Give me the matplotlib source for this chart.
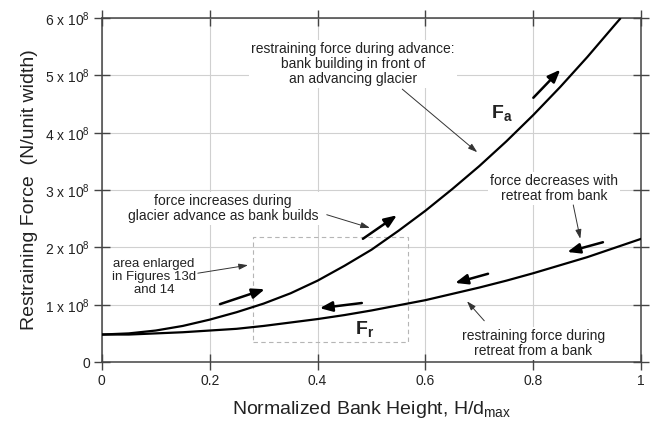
import matplotlib
matplotlib.use('Agg')
import matplotlib.pyplot as plt
from matplotlib.ticker import FuncFormatter
from matplotlib.patches import Rectangle

plt.rcParams['font.family'] = ['Liberation Sans', 'DejaVu Sans']
plt.rcParams['mathtext.fontset'] = 'custom'
plt.rcParams['mathtext.rm'] = 'Liberation Sans'
plt.rcParams['mathtext.it'] = 'Liberation Sans'
plt.rcParams['mathtext.bf'] = 'Liberation Sans:bold'

# bank height H/dmax and restraining forces (units of 1e8 N per unit width)
h_adv = [0.0, 0.05, 0.1, 0.15, 0.2, 0.25, 0.3, 0.35, 0.4, 0.45, 0.5,
         0.55, 0.6, 0.65, 0.7, 0.75, 0.8, 0.85, 0.9, 0.95, 0.962]
f_adv = [0.48, 0.50, 0.55, 0.63, 0.74, 0.87, 1.02, 1.20, 1.42, 1.68, 1.96,
         2.29, 2.64, 3.02, 3.42, 3.85, 4.31, 4.80, 5.32, 5.87, 6.00]

h_ret = [0.0, 0.05, 0.1, 0.15, 0.2, 0.25, 0.3, 0.35, 0.4, 0.45, 0.5,
         0.55, 0.6, 0.65, 0.7, 0.75, 0.8, 0.85, 0.9, 0.95, 1.0]
f_ret = [0.48, 0.48, 0.50, 0.52, 0.55, 0.58, 0.63, 0.69, 0.75, 0.82, 0.90,
         0.99, 1.08, 1.19, 1.30, 1.42, 1.55, 1.69, 1.83, 1.99, 2.15]

x_ticks = [0, 0.2, 0.4, 0.6, 0.8, 1]
x_tick_labels = ['0', '0.2', '0.4', '0.6', '0.8', '1']
y_ticks = [0, 1, 2, 3, 4, 5, 6]

# direction arrows drawn beside the curves: (tail, head)
flow_arrows = [
    ((0.219, 1.01), (0.302, 1.27)),
    ((0.484, 2.15), (0.547, 2.56)),
    ((0.800, 4.61), (0.850, 5.10)),
    ((0.929, 2.09), (0.863, 1.92)),
    ((0.716, 1.54), (0.655, 1.38)),
    ((0.482, 1.03), (0.404, 0.94)),
]

# notes: (text, text position, arrow tail, arrow head, font size)
notes = [
    ('restraining force during advance:\nbank building in front of\nan advancing glacier',
     (0.466, 5.2), (0.557, 4.76), (0.696, 3.66), 10),
    ('force increases during\nglacier advance as bank builds',
     (0.225, 2.68), (0.417, 2.57), (0.497, 2.34), 10),
    ('area enlarged\nin Figures 13d\nand 14',
     (0.097, 1.49), (0.178, 1.55), (0.271, 1.69), 9.5),
    ('force decreases with\nretreat from bank',
     (0.839, 3.03), (0.874, 2.74), (0.887, 2.15), 10),
    ('restraining force during\nretreat from a bank',
     (0.800, 0.33), (0.709, 0.72), (0.677, 1.06), 10),
]

enlarged_box = (0.28, 0.35, 0.568, 2.18)

text_color = '#222222'

fig = plt.figure(figsize=(6.57, 4.30), dpi=100)
ax = fig.add_axes([0.155, 0.158, 0.821, 0.800])

ax.plot(h_adv, f_adv, color='black', lw=1.6, zorder=4, solid_capstyle='butt')
ax.plot(h_ret, f_ret, color='black', lw=1.6, zorder=4)

x0, y0, x1, y1 = enlarged_box
ax.add_patch(Rectangle((x0, y0), x1 - x0, y1 - y0, fill=False,
                       ec='#b5b5b5', lw=0.8, ls=(0, (4, 3)), zorder=2))

for tail, head in flow_arrows:
    ax.annotate('', xy=head, xytext=tail,
                arrowprops=dict(arrowstyle='-|>,head_length=0.75,head_width=0.3',
                                color='black', lw=1.8, shrinkA=0, shrinkB=0),
                zorder=5)

for text, pos, tail, head, size in notes:
    ax.text(pos[0], pos[1], text, ha='center', va='center', fontsize=size,
            color=text_color, linespacing=1.1, zorder=3,
            bbox=dict(fc='white', ec='none', pad=1.5))
    ax.annotate('', xy=head, xytext=tail,
                arrowprops=dict(arrowstyle='-|>,head_length=0.55,head_width=0.18',
                                color='#333333', lw=0.7, shrinkA=0, shrinkB=0),
                zorder=5)

ax.text(0.742, 4.35, r'$\mathbf{F_a}$', fontsize=14, color=text_color,
        ha='center', va='center', zorder=6)
ax.text(0.488, 0.57, r'$\mathbf{F_r}$', fontsize=14, color=text_color,
        ha='center', va='center', zorder=6)

ax.set_xlim(0, 1)
ax.set_ylim(0, 6)
ax.set_xticks(x_ticks)
ax.set_xticklabels(x_tick_labels)
ax.set_yticks(y_ticks)
ax.yaxis.set_major_formatter(FuncFormatter(
    lambda v, pos: '0' if v == 0 else r'%d x 10$^{8}$' % v))

ax.grid(True, color='#d0d0d0', lw=0.8, zorder=0)
ax.set_axisbelow(True)
for side in ['left', 'right', 'top', 'bottom']:
    ax.spines[side].set_color('#444444')
    ax.spines[side].set_linewidth(1.1)
ax.tick_params(direction='inout', length=11, width=1.0, color='#444444',
               top=True, right=True, labelsize=10, labelcolor=text_color, pad=3)

ax.set_xlabel(r'Normalized Bank Height, H/d$_{\mathrm{max}}$', fontsize=14,
              color=text_color, labelpad=8)
ax.set_ylabel('Restraining Force  (N/unit width)', fontsize=14,
              color=text_color, labelpad=5)

fig.savefig('out.png', dpi=100)
